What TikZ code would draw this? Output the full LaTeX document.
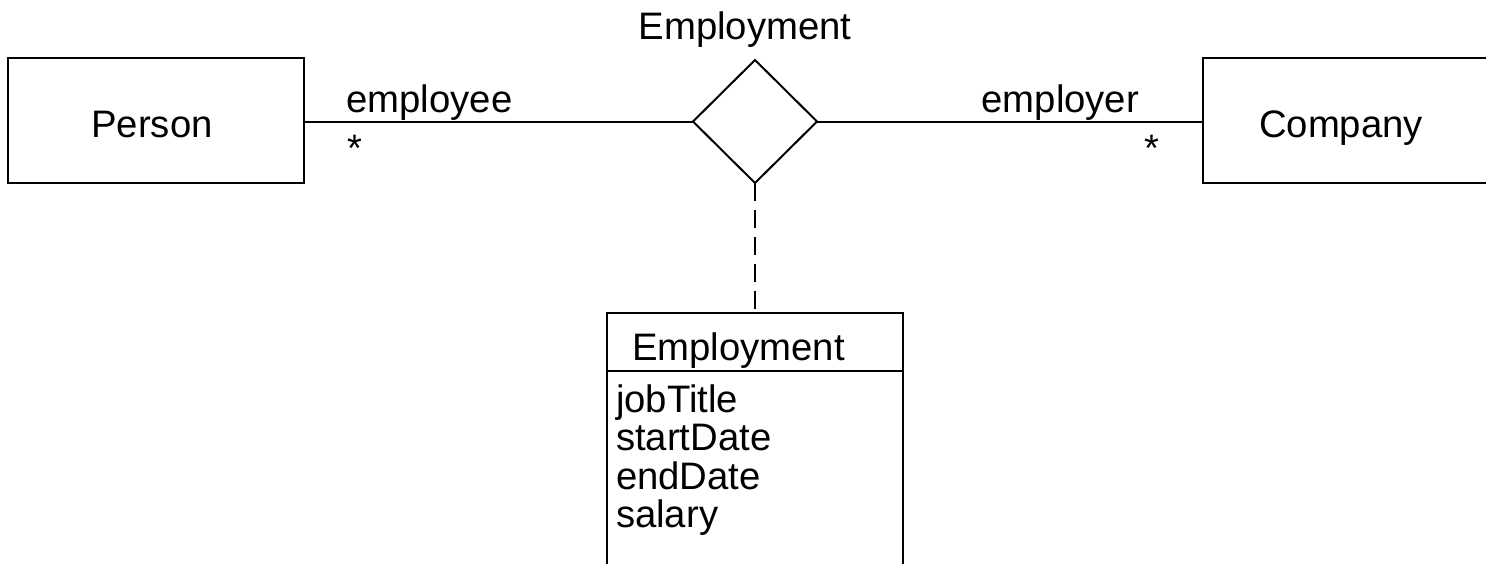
\documentclass[tikz,border=0pt]{standalone}
\usepackage{fontspec}
\setmainfont{Liberation Sans}
\usetikzlibrary{shapes.geometric}
\begin{document}
\begin{tikzpicture}[x=1pt, y=-1pt,
  line width=2pt,
  every node/.style={font=\fontsize{38.3}{40}\selectfont, inner sep=0pt},
  box/.style={draw, rectangle, minimum width=296pt, outer sep=0pt},
  txt/.style={anchor=base},
  attr/.style={anchor=base west},
  relation/.style={draw, diamond, minimum width=124pt, minimum height=123pt, outer sep=0pt},
  assoc/.style={dash pattern=on 18pt off 9pt}]
\useasboundingbox (0,0) rectangle (1486,563);

% entity classes
\node[box, minimum height=125pt] (person) at (156,120) {};
\node[txt] (personlbl) at (152,137) {Person};
\node[box, minimum height=125pt] (company) at (1351,120) {};
\node[txt] (companylbl) at (1341,137) {Company};

% association diamond and its name
\node[relation] (rel) at (755,121.5) {};
\node[txt] (relname) at (745,39) {Employment};

% association ends
\draw (rel.west) -- (rel.west -| person.east);
\draw (rel.east) -- (rel.east -| company.west);
\node[attr] (role1) at (345.5,112) {employee};
\node[attr] (mult1) at (346.5,161) {*};
\node[attr] (role2) at (980.5,112) {employer};
\node[attr] (mult2) at (1143.5,161) {*};

% association class: name compartment and attribute compartment
\node[box, minimum height=58pt] (cls) at (755,342) {};
\node[box, anchor=north, minimum height=240pt] (clsbody) at (cls.south) {};
\node[attr] (clsname) at (631,360) {Employment};
\node[attr] (a1) at (615,412) {jobTitle};
\node[attr] (a2) at (615,450) {startDate};
\node[attr] (a3) at (615,489) {endDate};
\node[attr] (a4) at (615,527) {salary};

\draw[assoc] (rel.south) -- (cls.north);
\end{tikzpicture}
\end{document}
